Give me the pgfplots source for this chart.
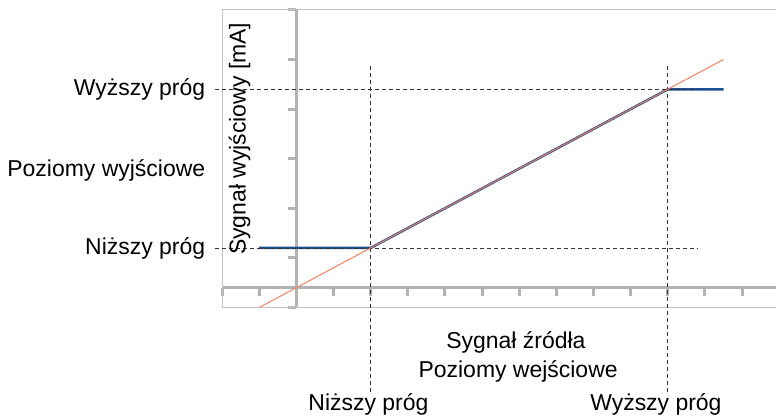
\documentclass[border=0pt]{standalone}
\usepackage{pgfplots}
\pgfplotsset{compat=1.18}
\usepackage{fontspec}
\setmainfont{Liberation Sans}
\definecolor{axgray}{RGB}{178,178,178}
\definecolor{framegray}{RGB}{195,195,195}
\definecolor{outblue}{RGB}{28,79,143}
\definecolor{idorange}{RGB}{244,128,95}
\begin{document}
\begin{tikzpicture}
\begin{axis}[
    x=37.2pt, y=49.67pt,
    xmin=-2, xmax=12.9, ymin=-0.4, ymax=5.6,
    axis lines*=middle,
    every inner x axis line/.append style={-},
    every inner y axis line/.append style={-},
    axis line style={draw=axgray, line width=3pt},
    xtick={-2,-1,...,12},
    ytick={-0.4,0.6,1.6,2.6,3.6,4.6,5.6},
    xticklabels={}, yticklabels={},
    hide obscured x ticks=false,
    tick align=outside,
    major tick length=8pt,
    tick style={draw=axgray, line width=3pt},
    clip=false,
    font=\fontsize{23}{27}\selectfont,
]
% frame (no right side)
\addplot [framegray, line width=1pt] coordinates {(12.9,5.6) (-2,5.6) (-2,-0.4) (12.9,-0.4)};
% output signal
\addplot [outblue, line width=2.5pt] coordinates {(-1,0.8) (2,0.8) (10,4) (11.5,4)};
% threshold guides
\addplot [black!80, line width=0.8pt, dash pattern=on 4pt off 3pt] coordinates {(-2.2,4) (10.8,4)};
\addplot [black!80, line width=0.8pt, dash pattern=on 4pt off 3pt] coordinates {(-2.2,0.8) (10.8,0.8)};
\addplot [black!80, line width=0.8pt, dash pattern=on 4pt off 3pt] coordinates {(2,4.46) (2,-2.12)};
\addplot [black!80, line width=0.8pt, dash pattern=on 4pt off 3pt] coordinates {(10,4.46) (10,-2.12)};
% ideal input-output line
\addplot [idorange, line width=1pt] coordinates {(-1,-0.4) (11.5,4.6)};
% labels
\node[anchor=east, inner sep=0pt] at (axis cs:-2.45,4) {Wyższy próg};
\node[anchor=east, inner sep=0pt] at (axis cs:-2.45,2.36) {Poziomy wyjściowe};
\node[anchor=east, inner sep=0pt] at (axis cs:-2.45,0.8) {Niższy próg};
\node[rotate=90] at (axis cs:-1.53,3.0) {Sygnał wyjściowy [mA]};
\node at (axis cs:5.91,-1.11) {Sygnał źródła};
\node at (axis cs:5.97,-1.69) {Poziomy wejściowe};
\node at (axis cs:1.94,-2.36) {Niższy próg};
\node at (axis cs:9.68,-2.36) {Wyższy próg};
\coordinate (tl) at (axis cs:-7.98,5.80);
\coordinate (br) at (axis cs:12.90,-2.637);
\end{axis}
\path (tl) rectangle (br);
\end{tikzpicture}
\end{document}
